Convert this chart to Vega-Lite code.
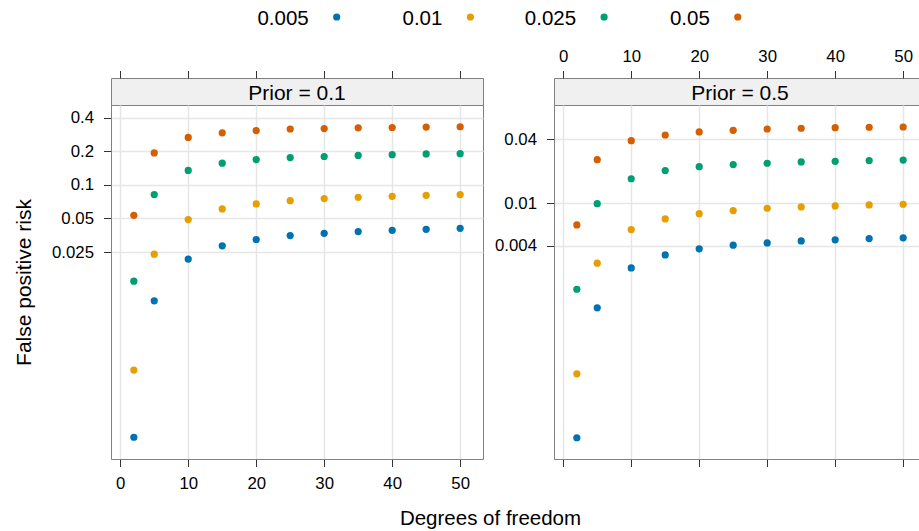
{
  "$schema": "https://vega.github.io/schema/vega-lite/v6.json",
  "padding": {"left": 12, "top": 0, "right": 0, "bottom": 0},
  "background": "white",
  "spacing": 13,
  "config": {
    "font": "Liberation Sans",
    "view": {"stroke": "#808080", "strokeWidth": 1},
    "axis": {
      "labelFont": "Liberation Sans", "labelFontSize": 16.8, "labelColor": "#000000",
      "tickColor": "#333333", "tickSize": 7.5, "domain": false, "grid": false,
      "gridColor": "#e6e6e6", "gridWidth": 1.5,
      "titleFont": "Liberation Sans", "titleFontSize": 21, "titleFontWeight": "normal", "titleColor": "#000000"
    }
  },
  "datasets": {
    "fpr": [
      {"prior": "0.1", "alpha": "0.005", "df": 2, "fpr": 0.000544},
      {"prior": "0.1", "alpha": "0.005", "df": 5, "fpr": 0.00913},
      {"prior": "0.1", "alpha": "0.005", "df": 10, "fpr": 0.0216},
      {"prior": "0.1", "alpha": "0.005", "df": 15, "fpr": 0.0284},
      {"prior": "0.1", "alpha": "0.005", "df": 20, "fpr": 0.0324},
      {"prior": "0.1", "alpha": "0.005", "df": 25, "fpr": 0.0351},
      {"prior": "0.1", "alpha": "0.005", "df": 30, "fpr": 0.0368},
      {"prior": "0.1", "alpha": "0.005", "df": 35, "fpr": 0.0382},
      {"prior": "0.1", "alpha": "0.005", "df": 40, "fpr": 0.0392},
      {"prior": "0.1", "alpha": "0.005", "df": 45, "fpr": 0.0400},
      {"prior": "0.1", "alpha": "0.005", "df": 50, "fpr": 0.0408},
      {"prior": "0.1", "alpha": "0.01", "df": 2, "fpr": 0.00218},
      {"prior": "0.1", "alpha": "0.01", "df": 5, "fpr": 0.0239},
      {"prior": "0.1", "alpha": "0.01", "df": 10, "fpr": 0.0489},
      {"prior": "0.1", "alpha": "0.01", "df": 15, "fpr": 0.0609},
      {"prior": "0.1", "alpha": "0.01", "df": 20, "fpr": 0.0676},
      {"prior": "0.1", "alpha": "0.01", "df": 25, "fpr": 0.0723},
      {"prior": "0.1", "alpha": "0.01", "df": 30, "fpr": 0.0754},
      {"prior": "0.1", "alpha": "0.01", "df": 35, "fpr": 0.0774},
      {"prior": "0.1", "alpha": "0.01", "df": 40, "fpr": 0.0790},
      {"prior": "0.1", "alpha": "0.01", "df": 45, "fpr": 0.0807},
      {"prior": "0.1", "alpha": "0.01", "df": 50, "fpr": 0.0819},
      {"prior": "0.1", "alpha": "0.025", "df": 2, "fpr": 0.01368},
      {"prior": "0.1", "alpha": "0.025", "df": 5, "fpr": 0.0819},
      {"prior": "0.1", "alpha": "0.025", "df": 10, "fpr": 0.135},
      {"prior": "0.1", "alpha": "0.025", "df": 15, "fpr": 0.157},
      {"prior": "0.1", "alpha": "0.025", "df": 20, "fpr": 0.169},
      {"prior": "0.1", "alpha": "0.025", "df": 25, "fpr": 0.176},
      {"prior": "0.1", "alpha": "0.025", "df": 30, "fpr": 0.180},
      {"prior": "0.1", "alpha": "0.025", "df": 35, "fpr": 0.184},
      {"prior": "0.1", "alpha": "0.025", "df": 40, "fpr": 0.187},
      {"prior": "0.1", "alpha": "0.025", "df": 45, "fpr": 0.190},
      {"prior": "0.1", "alpha": "0.025", "df": 50, "fpr": 0.191},
      {"prior": "0.1", "alpha": "0.05", "df": 2, "fpr": 0.0534},
      {"prior": "0.1", "alpha": "0.05", "df": 5, "fpr": 0.194},
      {"prior": "0.1", "alpha": "0.05", "df": 10, "fpr": 0.267},
      {"prior": "0.1", "alpha": "0.05", "df": 15, "fpr": 0.294},
      {"prior": "0.1", "alpha": "0.05", "df": 20, "fpr": 0.308},
      {"prior": "0.1", "alpha": "0.05", "df": 25, "fpr": 0.318},
      {"prior": "0.1", "alpha": "0.05", "df": 30, "fpr": 0.321},
      {"prior": "0.1", "alpha": "0.05", "df": 35, "fpr": 0.326},
      {"prior": "0.1", "alpha": "0.05", "df": 40, "fpr": 0.328},
      {"prior": "0.1", "alpha": "0.05", "df": 45, "fpr": 0.331},
      {"prior": "0.1", "alpha": "0.05", "df": 50, "fpr": 0.333},
      {"prior": "0.5", "alpha": "0.005", "df": 2, "fpr": 0.000062},
      {"prior": "0.5", "alpha": "0.005", "df": 5, "fpr": 0.001035},
      {"prior": "0.5", "alpha": "0.005", "df": 10, "fpr": 0.00246},
      {"prior": "0.5", "alpha": "0.005", "df": 15, "fpr": 0.00326},
      {"prior": "0.5", "alpha": "0.005", "df": 20, "fpr": 0.00372},
      {"prior": "0.5", "alpha": "0.005", "df": 25, "fpr": 0.00403},
      {"prior": "0.5", "alpha": "0.005", "df": 30, "fpr": 0.00423},
      {"prior": "0.5", "alpha": "0.005", "df": 35, "fpr": 0.00442},
      {"prior": "0.5", "alpha": "0.005", "df": 40, "fpr": 0.00452},
      {"prior": "0.5", "alpha": "0.005", "df": 45, "fpr": 0.00465},
      {"prior": "0.5", "alpha": "0.005", "df": 50, "fpr": 0.00472},
      {"prior": "0.5", "alpha": "0.01", "df": 2, "fpr": 0.000248},
      {"prior": "0.5", "alpha": "0.01", "df": 5, "fpr": 0.00273},
      {"prior": "0.5", "alpha": "0.01", "df": 10, "fpr": 0.00565},
      {"prior": "0.5", "alpha": "0.01", "df": 15, "fpr": 0.00712},
      {"prior": "0.5", "alpha": "0.01", "df": 20, "fpr": 0.00798},
      {"prior": "0.5", "alpha": "0.01", "df": 25, "fpr": 0.00852},
      {"prior": "0.5", "alpha": "0.01", "df": 30, "fpr": 0.00897},
      {"prior": "0.5", "alpha": "0.01", "df": 35, "fpr": 0.00923},
      {"prior": "0.5", "alpha": "0.01", "df": 40, "fpr": 0.00943},
      {"prior": "0.5", "alpha": "0.01", "df": 45, "fpr": 0.00964},
      {"prior": "0.5", "alpha": "0.01", "df": 50, "fpr": 0.00978},
      {"prior": "0.5", "alpha": "0.025", "df": 2, "fpr": 0.00155},
      {"prior": "0.5", "alpha": "0.025", "df": 5, "fpr": 0.00991},
      {"prior": "0.5", "alpha": "0.025", "df": 10, "fpr": 0.0170},
      {"prior": "0.5", "alpha": "0.025", "df": 15, "fpr": 0.0203},
      {"prior": "0.5", "alpha": "0.025", "df": 20, "fpr": 0.0221},
      {"prior": "0.5", "alpha": "0.025", "df": 25, "fpr": 0.0231},
      {"prior": "0.5", "alpha": "0.025", "df": 30, "fpr": 0.0238},
      {"prior": "0.5", "alpha": "0.025", "df": 35, "fpr": 0.0245},
      {"prior": "0.5", "alpha": "0.025", "df": 40, "fpr": 0.0248},
      {"prior": "0.5", "alpha": "0.025", "df": 45, "fpr": 0.0252},
      {"prior": "0.5", "alpha": "0.025", "df": 50, "fpr": 0.0255},
      {"prior": "0.5", "alpha": "0.05", "df": 2, "fpr": 0.00625},
      {"prior": "0.5", "alpha": "0.05", "df": 5, "fpr": 0.0257},
      {"prior": "0.5", "alpha": "0.05", "df": 10, "fpr": 0.0388},
      {"prior": "0.5", "alpha": "0.05", "df": 15, "fpr": 0.0439},
      {"prior": "0.5", "alpha": "0.05", "df": 20, "fpr": 0.0469},
      {"prior": "0.5", "alpha": "0.05", "df": 25, "fpr": 0.0486},
      {"prior": "0.5", "alpha": "0.05", "df": 30, "fpr": 0.0500},
      {"prior": "0.5", "alpha": "0.05", "df": 35, "fpr": 0.0508},
      {"prior": "0.5", "alpha": "0.05", "df": 40, "fpr": 0.0514},
      {"prior": "0.5", "alpha": "0.05", "df": 45, "fpr": 0.0519},
      {"prior": "0.5", "alpha": "0.05", "df": 50, "fpr": 0.0522}
    ],
    "key": [
      {"alpha": "0.005"}, {"alpha": "0.01"}, {"alpha": "0.025"}, {"alpha": "0.05"}
    ]
  },
  "vconcat": [
    {
      "width": 668.5, "height": 34,
      "data": {"name": "key"},
      "view": {"stroke": null},
      "encoding": {
        "x": {"field": "alpha", "type": "ordinal",
              "scale": {"type": "point", "domain": ["0.005", "0.01", "0.025", "0.05"], "padding": 1, "align": 0.5},
              "axis": null},
        "color": {"field": "alpha", "type": "ordinal",
                  "scale": {"domain": ["0.005", "0.01", "0.025", "0.05"], "range": ["#0072B2", "#E69F00", "#009E73", "#D55E00"]},
                  "legend": null}
      },
      "layer": [
        {"mark": {"type": "circle", "size": 52, "opacity": 1, "xOffset": 92}},
        {"mark": {"type": "text", "align": "right", "baseline": "middle", "xOffset": 92, "dx": -28, "dy": 1.5, "fontSize": 20.5},
         "encoding": {"text": {"field": "alpha"}, "color": {"value": "#000000"}}}
      ]
    },
    {
      "columns": 2,
      "bounds": "flush",
      "spacing": {"row": 0, "column": 71},
      "concat": [
        {
          "width": 372, "height": 27,
          "data": {"values": [{"label": "Prior = 0.1"}]},
          "view": {"fill": "#f0f0f0", "stroke": "#808080"},
          "mark": {"type": "text", "fontSize": 21, "baseline": "middle", "dy": 2, "color": "#000000"},
          "encoding": {
            "x": {"datum": 26, "type": "quantitative",
                  "scale": {"domain": [-1.36, 53.36], "nice": false, "zero": false},
                  "axis": {"orient": "top", "values": [0, 10, 20, 30, 40, 50], "labels": false, "title": null}},
            "text": {"field": "label"}
          }
        },
        {
          "width": 372, "height": 27,
          "data": {"values": [{"label": "Prior = 0.5"}]},
          "view": {"fill": "#f0f0f0", "stroke": "#808080"},
          "mark": {"type": "text", "fontSize": 21, "baseline": "middle", "dy": 2, "color": "#000000"},
          "encoding": {
            "x": {"datum": 26, "type": "quantitative",
                  "scale": {"domain": [-1.36, 53.36], "nice": false, "zero": false},
                  "axis": {"orient": "top", "values": [0, 10, 20, 30, 40, 50], "labels": true, "format": "d", "labelPadding": 5.5, "title": null}},
            "text": {"field": "label"}
          }
        },
        {
          "width": 372, "height": 354,
          "data": {"name": "fpr"},
          "transform": [{"filter": "datum.prior == '0.1'"}],
          "mark": {"type": "circle", "size": 52, "opacity": 1},
          "encoding": {
            "x": {"field": "df", "type": "quantitative",
                  "scale": {"domain": [-1.36, 53.36], "nice": false, "zero": false},
                  "axis": {"values": [0, 10, 20, 30, 40, 50], "grid": true, "format": "d", "labelPadding": 8.8,
                           "title": "Degrees of freedom", "titleX": 379, "titleY": 65.7, "titleBaseline": "alphabetic",
                           "titleAlign": "center", "titleFontSize": 20.5}},
            "y": {"field": "fpr", "type": "quantitative",
                  "scale": {"type": "log", "domain": [0.000347, 0.522], "nice": false},
                  "axis": {"values": [0.025, 0.05, 0.1, 0.2, 0.4], "grid": true, "format": "~g", "labelPadding": 10,
                           "title": "False positive risk", "titleX": -80.7, "titleBaseline": "alphabetic"}},
            "color": {"field": "alpha", "type": "ordinal",
                      "scale": {"domain": ["0.005", "0.01", "0.025", "0.05"], "range": ["#0072B2", "#E69F00", "#009E73", "#D55E00"]},
                      "legend": null}
          }
        },
        {
          "width": 372, "height": 354,
          "data": {"name": "fpr"},
          "transform": [{"filter": "datum.prior == '0.5'"}],
          "mark": {"type": "circle", "size": 52, "opacity": 1},
          "encoding": {
            "x": {"field": "df", "type": "quantitative",
                  "scale": {"domain": [-1.36, 53.36], "nice": false, "zero": false},
                  "axis": {"values": [0, 10, 20, 30, 40, 50], "grid": true, "labels": false, "title": null}},
            "y": {"field": "fpr", "type": "quantitative",
                  "scale": {"type": "log", "domain": [0.0000391, 0.0841], "nice": false},
                  "axis": {"values": [0.004, 0.01, 0.04], "grid": true, "format": "~g", "labelPadding": 10, "title": null}},
            "color": {"field": "alpha", "type": "ordinal",
                      "scale": {"domain": ["0.005", "0.01", "0.025", "0.05"], "range": ["#0072B2", "#E69F00", "#009E73", "#D55E00"]},
                      "legend": null}
          }
        }
      ]
    }
  ]
}
